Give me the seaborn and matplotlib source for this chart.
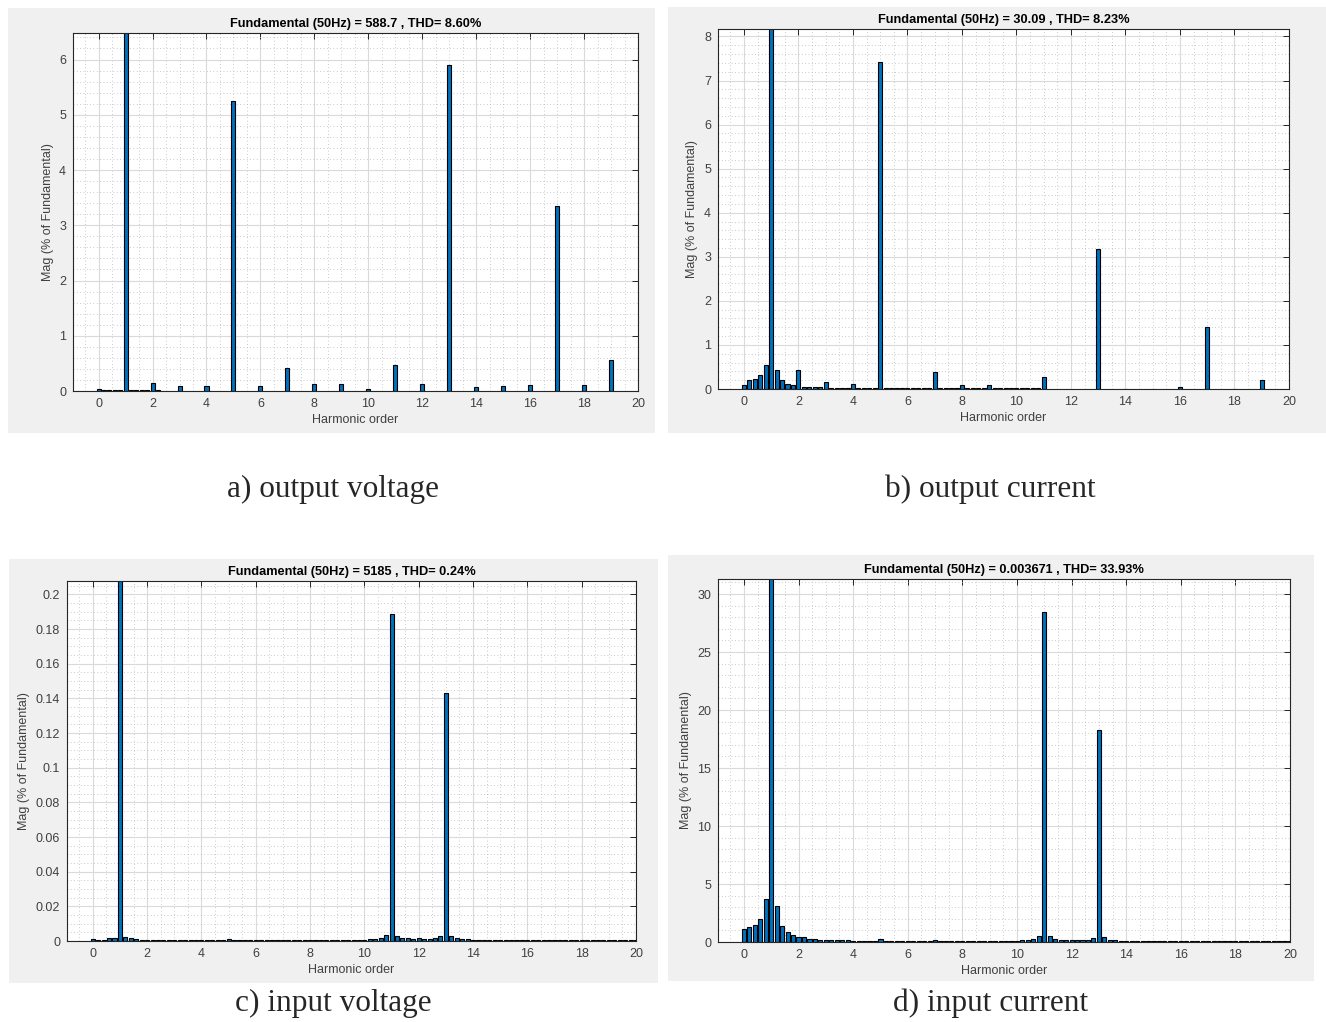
import numpy as np
import pandas as pd
import matplotlib
matplotlib.use("Agg")
import matplotlib.pyplot as plt
from matplotlib.patches import Rectangle
from matplotlib.ticker import MultipleLocator, FuncFormatter
import seaborn as sns

N = np.nan
# DFT bins: harmonic order in steps of 0.2 (10 Hz resolution at 50 Hz fundamental)
harmonic_order = [round(0.2 * i, 1) for i in range(101)]

# a) output voltage  (one row per harmonic: k, k+0.2, k+0.4, k+0.6, k+0.8)
mag_output_voltage = [
    0.04, 0.01, 0.01, 0.01, 0.01,
    100.0, 0.01, 0.01, 0.01, 0.01,
    0.14, 0.02, N, N, N,
    0.09, N, N, N, N,
    0.09, N, N, N, N,
    5.25, N, N, N, N,
    0.09, N, N, N, N,
    0.41, N, N, N, N,
    0.13, N, N, N, N,
    0.13, N, N, N, N,
    0.03, N, N, N, N,
    0.47, N, N, N, N,
    0.13, N, N, N, N,
    5.90, N, N, N, N,
    0.07, N, N, N, N,
    0.09, N, N, N, N,
    0.11, N, N, N, N,
    3.35, N, N, N, N,
    0.11, N, N, N, N,
    0.555, N, N, N, N,
    N,
]

# b) output current
mag_output_current = [
    0.10, 0.20, 0.23, 0.31, 0.55,
    100.0, 0.44, 0.21, 0.12, 0.10,
    0.44, 0.05, 0.05, 0.05, 0.05,
    0.15, 0.02, 0.02, 0.02, 0.02,
    0.12, 0.02, 0.02, 0.02, 0.02,
    7.43, 0.02, 0.02, 0.02, 0.02,
    0.02, 0.02, 0.02, 0.02, 0.02,
    0.39, 0.02, 0.02, 0.02, 0.02,
    0.10, 0.02, 0.02, 0.02, 0.02,
    0.09, 0.02, 0.02, 0.02, 0.02,
    0.02, 0.02, 0.02, 0.02, 0.02,
    0.28, N, N, N, N,
    N, N, N, N, N,
    3.18, N, N, N, N,
    0.01, N, N, N, N,
    0.01, N, N, N, N,
    0.05, N, N, N, N,
    1.40, N, N, N, N,
    0.01, N, N, N, N,
    0.21, N, N, N, N,
    N,
]

# c) input voltage
mag_input_voltage = [
    0.0010, 0.0005, 0.0005, 0.0015, 0.0020,
    100.0, 0.0025, 0.0015, 0.0012, 0.0008,
    0.0005, 0.0005, 0.0005, 0.0005, 0.0005,
    0.0005, 0.0005, 0.0005, 0.0005, 0.0005,
    0.0005, 0.0005, 0.0005, 0.0005, 0.0005,
    0.0012, 0.0005, 0.0005, 0.0005, 0.0005,
    0.0005, 0.0005, 0.0005, 0.0005, 0.0005,
    0.0005, 0.0005, 0.0005, 0.0005, 0.0005,
    0.0005, 0.0005, 0.0005, 0.0005, 0.0005,
    0.0005, 0.0005, 0.0005, 0.0005, 0.0005,
    0.0005, 0.0012, 0.0012, 0.0018, 0.0032,
    0.1889, 0.0030, 0.0020, 0.0015, 0.0012,
    0.0015, 0.0012, 0.0010, 0.0018, 0.0030,
    0.1431, 0.0030, 0.0020, 0.0012, 0.0012,
    0.0004, 0.0004, 0.0004, 0.0004, 0.0004,
    0.0004, 0.0004, 0.0004, 0.0004, 0.0004,
    0.0004, 0.0004, 0.0004, 0.0004, 0.0004,
    0.0004, 0.0004, 0.0004, 0.0004, 0.0004,
    0.0004, 0.0004, 0.0004, 0.0004, 0.0004,
    0.0004, 0.0004, 0.0004, 0.0004, 0.0004,
    0.0004,
]

# d) input current
mag_input_current = [
    1.09, 1.30, 1.50, 2.00, 3.69,
    100.0, 3.08, 1.40, 0.90, 0.60,
    0.45, 0.40, 0.30, 0.30, 0.20,
    0.20, 0.20, 0.20, 0.20, 0.20,
    0.10, 0.10, 0.10, 0.10, 0.10,
    0.30, 0.10, 0.10, 0.10, 0.10,
    0.10, 0.10, 0.10, 0.10, 0.10,
    0.20, 0.10, 0.10, 0.10, 0.10,
    0.10, 0.10, 0.10, 0.10, 0.10,
    0.10, 0.10, 0.10, 0.10, 0.10,
    0.10, 0.15, 0.20, 0.30, 0.50,
    28.45, 0.50, 0.30, 0.20, 0.15,
    0.20, 0.15, 0.20, 0.20, 0.35,
    18.31, 0.40, 0.20, 0.20, 0.10,
    0.05, 0.05, 0.05, 0.05, 0.05,
    0.05, 0.05, 0.05, 0.05, 0.05,
    0.05, 0.05, 0.05, 0.05, 0.05,
    0.05, 0.05, 0.05, 0.05, 0.05,
    0.05, 0.05, 0.05, 0.05, 0.05,
    0.05, 0.05, 0.05, 0.05, 0.05,
    0.05,
]

titles = [
    "Fundamental (50Hz) = 588.7 , THD= 8.60%",
    "Fundamental (50Hz) = 30.09 , THD= 8.23%",
    "Fundamental (50Hz) = 5185 , THD= 0.24%",
    "Fundamental (50Hz) = 0.003671 , THD= 33.93%",
]
captions = ["a) output voltage", "b) output current", "c) input voltage", "d) input current"]
series = [mag_output_voltage, mag_output_current, mag_input_voltage, mag_input_current]
y_tops = [6.48, 8.17, 0.2077, 31.3]
y_major = [1, 1, 0.02, 5]
y_minor = [0.2, 0.2, 0.005, 1]

sns.set_style("white")
plt.rcParams["font.family"] = ["Liberation Sans", "DejaVu Sans"]

W, H = 1326, 1022
fig = plt.figure(figsize=(W / 100, H / 100), dpi=100)
fig.patch.set_facecolor("white")

def frect(x0, y0, x1, y1):
    # pixel box (top-left origin) -> figure fraction rect
    return [x0 / W, 1 - y1 / H, (x1 - x0) / W, (y1 - y0) / H]

axes_px = [(73, 33, 638, 391), (718, 29, 1289, 389), (67, 581, 636, 941), (718, 579, 1290, 942)]
bg_px = [(8, 8, 655, 433), (668, 7, 1326, 433), (9, 559, 658, 983), (668, 555, 1314, 981)]
cap_px = [(333, 489), (990, 489), (333, 1003), (991, 1003)]

for i in range(4):
    b = frect(*bg_px[i])
    fig.patches.append(Rectangle((b[0], b[1]), b[2], b[3], transform=fig.transFigure,
                                 facecolor="#f0f0f0", edgecolor="none", zorder=-5))

gfmt = FuncFormatter(lambda v, p: f"{v:g}" if abs(v) > 1e-12 else "0")
edge = "#262626"
for i in range(4):
    ax = fig.add_axes(frect(*axes_px[i]))
    df = pd.DataFrame({"order": harmonic_order, "mag": series[i]}).dropna()
    sns.barplot(data=df, x="order", y="mag", native_scale=True, width=0.75,
                color="#0072BD", saturation=1, edgecolor="black", linewidth=0.8,
                errorbar=None, ax=ax)
    ax.set_facecolor("white")
    ax.set_xlim(-0.95, 20)
    ax.set_ylim(0, y_tops[i])
    ax.xaxis.set_major_locator(MultipleLocator(2))
    ax.xaxis.set_minor_locator(MultipleLocator(0.5))
    ax.yaxis.set_major_locator(MultipleLocator(y_major[i]))
    ax.yaxis.set_minor_locator(MultipleLocator(y_minor[i]))
    ax.xaxis.set_major_formatter(gfmt)
    ax.yaxis.set_major_formatter(gfmt)
    ax.set_axisbelow(True)
    ax.grid(which="major", color="#dadada", linewidth=0.8, linestyle="-")
    ax.grid(which="minor", color="#b8b8b8", linewidth=0.6, linestyle=(0, (1, 3)))
    ax.tick_params(which="major", direction="in", top=True, right=True, length=4,
                   width=0.7, color=edge, labelsize=9, labelcolor="#404040", pad=5)
    ax.tick_params(which="minor", length=0)
    for s in ax.spines.values():
        s.set_color(edge)
        s.set_linewidth(0.8)
        s.set_visible(True)
    ax.set_xlabel("Harmonic order", fontsize=9, color="#404040", labelpad=3)
    ax.set_ylabel("Mag (% of Fundamental)", fontsize=9, color="#404040", labelpad=4)
    ax.set_title(titles[i], fontsize=9.2, fontweight="bold", color="black", pad=4)
    cx, cy = cap_px[i]
    fig.text(cx / W, 1 - cy / H, captions[i], ha="center", va="center",
             fontsize=22.5, family=["Liberation Serif", "DejaVu Serif"])

fig.savefig("out.png", dpi=100, facecolor="white")
